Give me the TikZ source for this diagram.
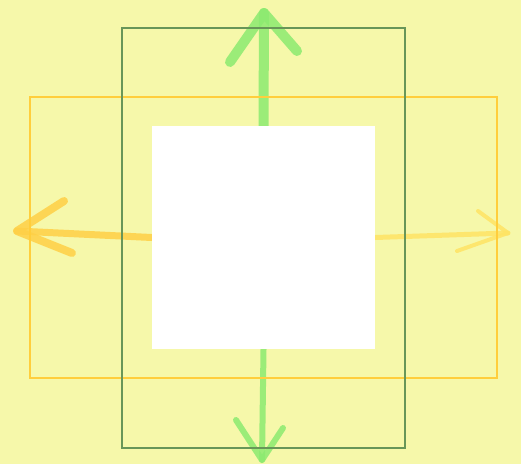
\documentclass[tikz,border=0pt]{standalone}
\begin{document}
\begin{tikzpicture}[x=1pt,y=-1pt,
  bgc/.style={fill=bgyellow},
  crayon/.style={line cap=round,line join=round,opacity=0.85},
  frame/.style={draw,fill=none,inner sep=0pt,line width=1.6pt}]
\definecolor{bgyellow}{RGB}{246,248,170}
\definecolor{framegreen}{RGB}{104,150,88}
\definecolor{frameyellow}{RGB}{255,206,60}
\definecolor{crgreen}{RGB}{140,234,112}
\definecolor{cryellow}{RGB}{255,208,70}
\definecolor{crpale}{RGB}{255,228,100}
\fill[bgyellow] (0,0) rectangle (521,464);
\useasboundingbox (0,0) rectangle (521,464);
% white square node (drawn later on top)
\path (263.5,237.5) node[inner sep=0pt,minimum width=223pt,minimum height=223pt] (sq) {};
% arrow coordinates
\coordinate (uptip) at (264,13);
\coordinate (upl) at (230,62);
\coordinate (upr) at (297,51);
\coordinate (dntip) at (262,460);
\coordinate (dnl) at (236,420);
\coordinate (dnr) at (283,428);
\coordinate (lftip) at (17,231);
\coordinate (lfu) at (64,201);
\coordinate (lfd) at (72,253);
\coordinate (rttip) at (508,233);
\coordinate (rtu) at (478,211);
\coordinate (rtd) at (457,251);
% crayon arrows
\draw[crayon,crgreen,line width=10pt] (sq.north) -- (uptip);
\draw[crayon,crgreen,line width=10pt] (upl) -- (uptip) -- (upr);
\draw[crayon,crgreen,line width=6pt] (sq.south) -- (dntip);
\draw[crayon,crgreen,line width=6pt] (dnl) -- (dntip) -- (dnr);
\draw[crayon,cryellow,line width=7pt] (sq.west) -- (lftip);
\draw[crayon,cryellow,line width=8pt] (lfu) -- (lftip) -- (lfd);
\draw[crayon,crpale,line width=5pt] (sq.east) -- (rttip);
\draw[crayon,crpale,line width=4pt] (rtu) -- (rttip) -- (rtd);
% frames
\node[frame,draw=frameyellow,minimum width=467pt,minimum height=281pt] (yr) at (263.5,237.5) {};
\node[frame,draw=framegreen,minimum width=283pt,minimum height=420pt] (gr) at (263.5,238) {};
% white square
\fill[white] (sq.north west) rectangle (sq.south east);
\end{tikzpicture}
\end{document}
